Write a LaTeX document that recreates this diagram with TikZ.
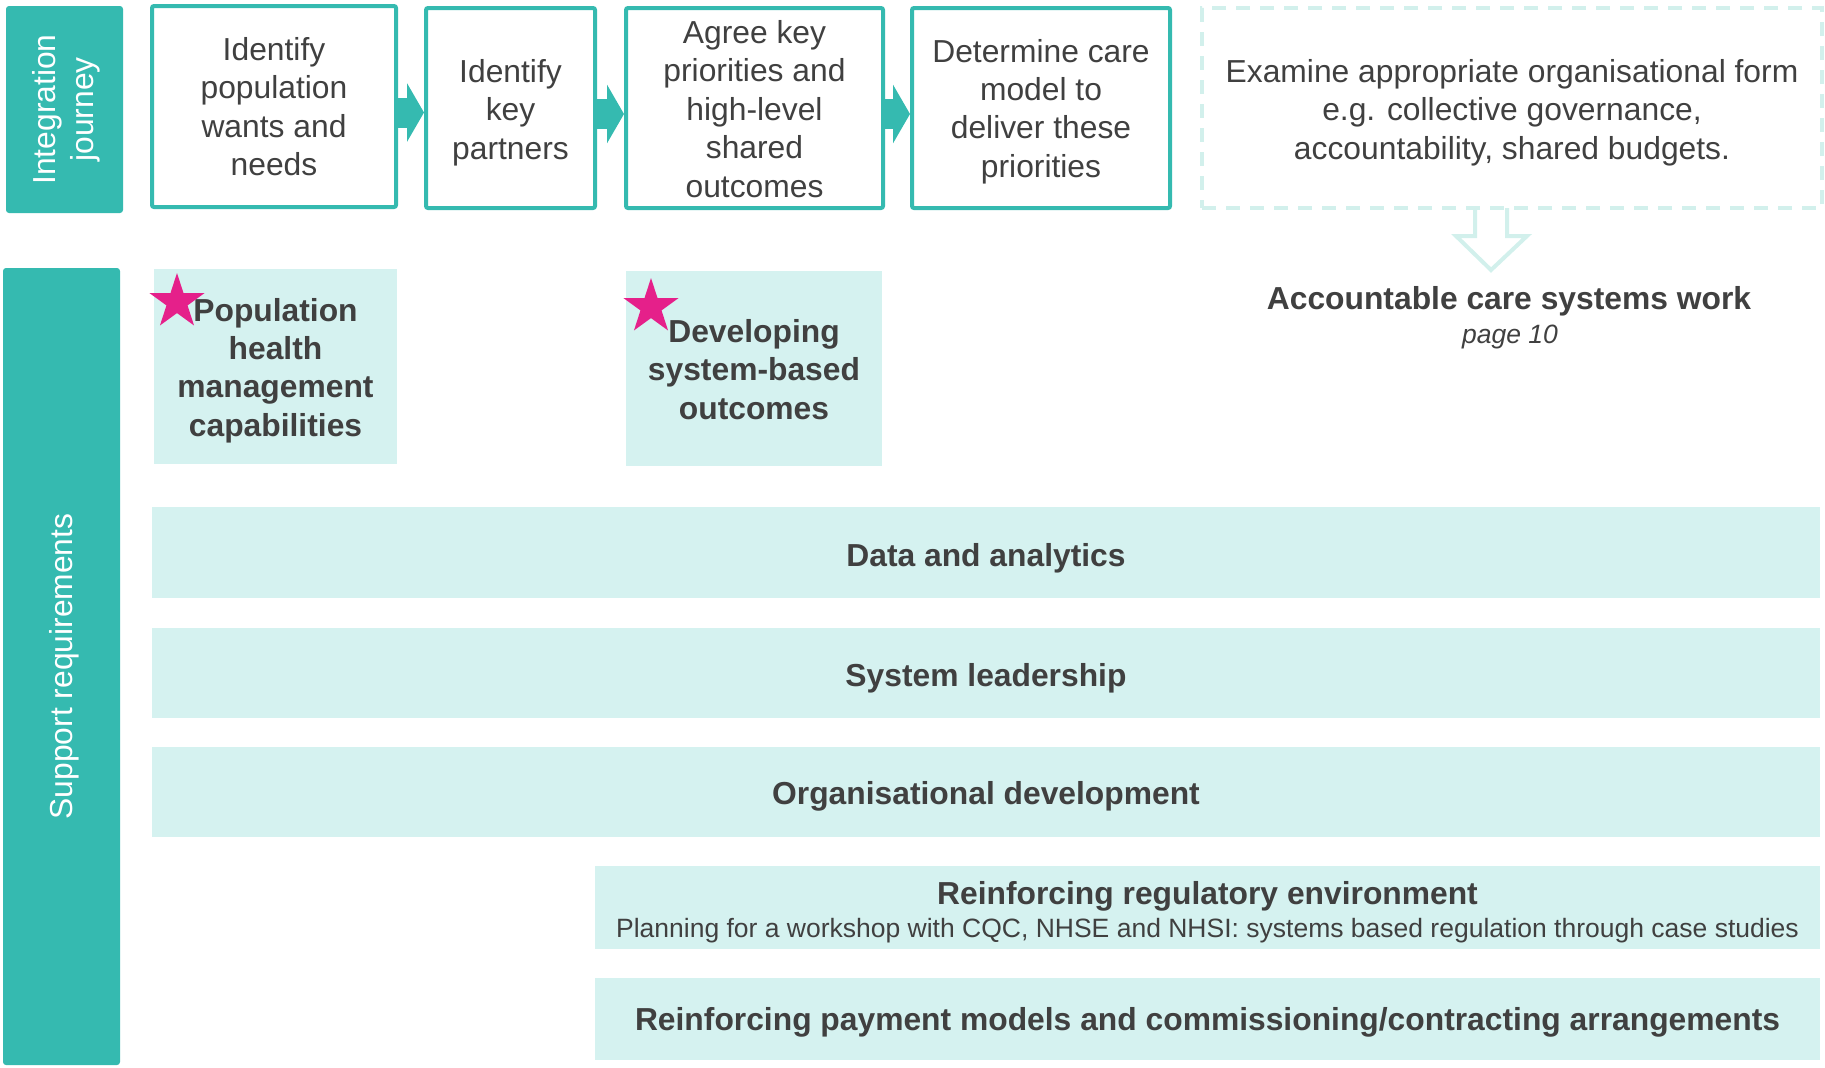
\documentclass[tikz,border=0pt]{standalone}
\usepackage{fontspec}
\setmainfont{Liberation Sans}
\usetikzlibrary{arrows.meta,fit,shapes.geometric}
\definecolor{teal1}{HTML}{35BAB0}
\definecolor{pale}{HTML}{D5F2F0}
\definecolor{paleline}{HTML}{D2F0EC}
\definecolor{ink}{HTML}{404040}
\definecolor{pink}{HTML}{E5208A}
\begin{document}
\begin{tikzpicture}[x=0.5pt,y=-0.5pt,
  every node/.style={text=ink, font=\fontsize{15.9}{19.2}\selectfont},
  stepbox/.style={draw=teal1, line width=2pt, rounded corners=1pt, fill=white,
    inner sep=0pt},
  sidebox/.style={fill=teal1, rounded corners=1.5pt, inner sep=0pt},
  sidetext/.style={text=white, rotate=90, align=center},
  panel/.style={fill=pale, inner sep=0pt},
  label/.style={align=center},
  boldlabel/.style={align=center, font=\fontsize{15.9}{19.2}\selectfont\bfseries},
  flow/.style={draw=teal1, line width=15pt,
    -{Triangle[length=8.5pt,width=29pt]}},
  starmark/.style={star, star points=5, star point ratio=2.618, fill=pink,
    draw=none, inner sep=0pt, minimum size=29pt},
  smalltext/.style={font=\fontsize{13.25}{16}\selectfont}
]
\useasboundingbox (0,0) rectangle (1825,1067);

% ---- integration journey row ----
\node[sidebox, fit={(6,6) (123,213)}] (ij) {};
\node[sidetext] at ([xshift=1pt]ij.center) {Integration\\journey};

\node[stepbox, fit={(152,6) (396,207)}] (b1) {};
\node[stepbox, fit={(426,8) (595,208)}] (b2) {};
\node[stepbox, fit={(626,8) (883,208)}] (b3) {};
\node[stepbox, fit={(912,8) (1170,208)}] (b4) {};
\node[label] at (b1.center) {Identify\\population\\wants and\\needs};
\node[label] at ([yshift=-2.3pt]b2.center) {Identify\\key\\partners};
\node[label] at ([yshift=-0.5pt]b3.center) {Agree key\\priorities and\\high-level\\shared\\outcomes};
\node[label] at ([yshift=-1.7pt]b4.center) {Determine care\\model to\\deliver these\\priorities};

\draw[flow] ([yshift=-3pt]b1.east) -- ([yshift=-3pt]b1.east -| b2.west);
\draw[flow] ([yshift=-3pt]b2.east) -- ([yshift=-3pt]b2.east -| b3.west);
\draw[flow] ([yshift=-3pt]b3.east) -- ([yshift=-3pt]b3.east -| b4.west);

\node[draw=paleline, line width=2.25pt, dash pattern=on 7pt off 5pt,
  inner sep=0pt, fit={(1202,8) (1822,208)}] (ex) {};
\node[label] at ([yshift=-2.3pt]ex.center)
  {Examine appropriate organisational form\\e.g. collective governance,\\accountability, shared budgets.};

% hollow arrow down to the follow-on work
\coordinate (dtop) at (1491,208);
\draw[draw=paleline, line width=2pt, line join=miter]
  (dtop) ++(-16,0) -- ++(0,28) -- ++(-19,0) -- ++(35,34) -- ++(36,-34)
  -- ++(-20,0) -- ++(0,-28);

\node[boldlabel] (acc) at (1509,301) {Accountable care systems work};
\node[font=\fontsize{13.25}{16}\selectfont\itshape] (pg) at (1510,337) {page 10};

% ---- support requirements ----
\node[sidebox, fit={(3,268) (120,1065)}] (sr) {};
\node[sidetext] at ([xshift=1.5pt]sr.center) {Support requirements};

\node[panel, fit={(154,269) (397,464)}] (ph) {};
\node[panel, fit={(626,271) (882,466)}] (dv) {};
\node[boldlabel] at ([yshift=-2pt]ph.center) {Population\\health\\management\\capabilities};
\node[boldlabel] at ([yshift=-0.5pt]dv.center) {Developing\\system-based\\outcomes};
\node[starmark] (st1) at (177,302) {};
\node[starmark] (st2) at (651,307) {};

\node[panel, fit={(152,507) (1820,598)}] (da) {};
\node[panel, fit={(152,628) (1820,718)}] (sl) {};
\node[panel, fit={(152,747) (1820,837)}] (od) {};
\node[panel, fit={(595,866) (1820,949)}] (rg) {};
\node[panel, fit={(595,978) (1820,1060)}] (pm) {};
\node[boldlabel] at ([yshift=-2.7pt]da.center) {Data and analytics};
\node[boldlabel] at ([yshift=-2.7pt]sl.center) {System leadership};
\node[boldlabel] at ([yshift=-2.3pt]od.center) {Organisational development};
\node[boldlabel] at ([yshift=5.7pt]rg.center) {Reinforcing regulatory environment};
\node[smalltext] at ([yshift=-11.7pt]rg.center) {Planning for a workshop with CQC, NHSE and NHSI: systems based regulation through case studies};
\node[boldlabel] at ([yshift=-1.8pt]pm.center) {Reinforcing payment models and commissioning/contracting arrangements};
\end{tikzpicture}
\end{document}
